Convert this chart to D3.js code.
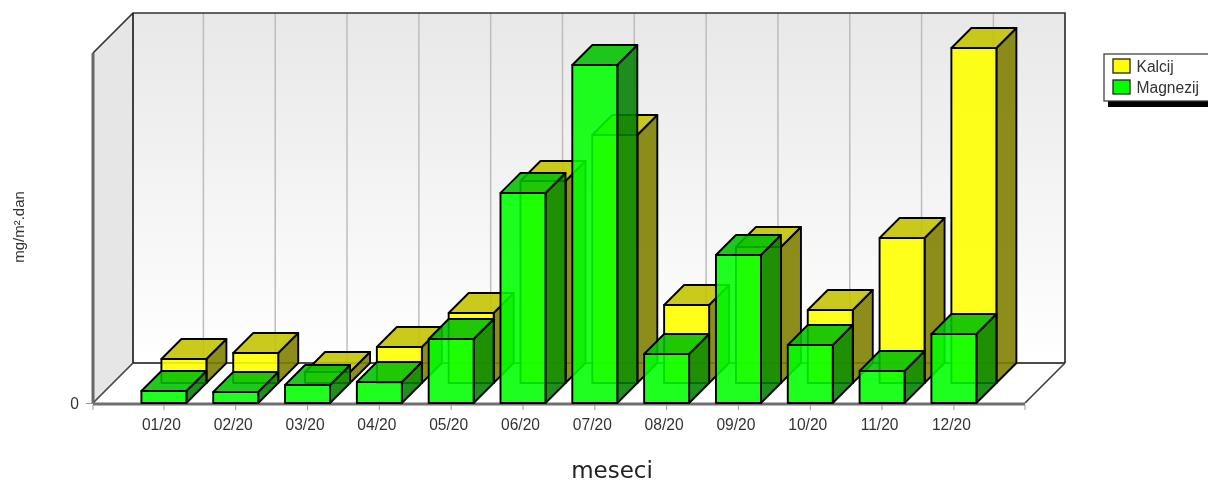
<!DOCTYPE html>
<html><head><meta charset="utf-8">
<style>html,body{margin:0;padding:0;background:#fff}svg{display:block;filter:blur(.4px)}text{fill:#333}</style>
<script src="https://cdnjs.cloudflare.com/ajax/libs/d3/7.8.5/d3.min.js"></script>
</head><body><svg id="c" width="1208" height="482"></svg>
<script>
const months=["01/20","02/20","03/20","04/20","05/20","06/20","07/20","08/20","09/20","10/20","11/20","12/20"];
const kalcij=[24,30,11,36,70,202,248,78,136,73,145,335];
const magnezij=[12,11,18,21,64,210,338,49,148,58,32,69];
const seriesNames=["Kalcij","Magnezij"];
const yTicks=[0];
const yLabel="mg/m².dan", xLabel="meseci";

const svg=d3.select("#c");
const L=93,R=1025,B=403,T=53,D=40;
const x=d3.scaleBand().domain(months).range([128,989.8]);
const y=d3.scaleLinear().domain([0,350]).range([B,T]);
const barW=45,bd=20;

const defs=svg.append("defs");
const g=defs.append("linearGradient").attr("id","wall").attr("x1",0).attr("x2",0).attr("y1",0).attr("y2",1);
g.append("stop").attr("offset",0).attr("stop-color","#e8e8e8");
g.append("stop").attr("offset",1).attr("stop-color","#ffffff");

const poly=(pts)=>pts.map(p=>p.join(",")).join(" ");
svg.append("rect").attr("x",L+D).attr("y",T-D).attr("width",R-L).attr("height",B-T).attr("fill","url(#wall)");
svg.append("polygon").attr("points",poly([[L,T],[L+D,T-D],[L+D,B-D],[L,B]])).attr("fill","#e6e6e6");
svg.selectAll(".grid").data(months).join("line").attr("class","grid")
  .attr("x1",d=>x(d)+x.bandwidth()/2+D-0.5).attr("x2",d=>x(d)+x.bandwidth()/2+D-0.5)
  .attr("y1",T-D).attr("y2",B-D).attr("stroke","#bdbdbd").attr("stroke-width",1.5);
svg.append("path").attr("d",`M${L},${T}L${L+D},${T-D}H${R+D}V${B-D}`).attr("fill","none").attr("stroke","#333").attr("stroke-width",1.7);
svg.append("line").attr("x1",L+D).attr("x2",L+D).attr("y1",T-D).attr("y2",B-D).attr("stroke","#222").attr("stroke-width",1.7);
svg.append("line").attr("x1",L+D).attr("x2",R+D).attr("y1",B-D).attr("y2",B-D).attr("stroke","#111").attr("stroke-width",1.7);
svg.append("path").attr("d",`M${L},${B}L${L+D},${B-D}M${R},${B}L${R+D},${B-D}`).attr("fill","none").attr("stroke","#444").attr("stroke-width",1.7);
svg.append("line").attr("x1",L).attr("x2",L).attr("y1",T).attr("y2",B).attr("stroke","#666").attr("stroke-width",3);
svg.append("line").attr("x1",L).attr("x2",R).attr("y1",B+1).attr("y2",B+1).attr("stroke","#707070").attr("stroke-width",3);

function bars(vals,off,front,top,side){
  const gg=svg.append("g");
  vals.forEach((v,i)=>{
    const x0=x(months[i])+x.bandwidth()/2-22.5+off, x1=x0+barW;
    const yb=y(0)-off, yt=y(v)-off;
    const s={stroke:"#000","stroke-width":1.9,"stroke-linejoin":"round"};
    const add=(pts,fill)=>{const p=gg.append("polygon").attr("points",poly(pts)).attr("fill",fill);
      Object.entries(s).forEach(([k,val])=>p.attr(k,val));};
    add([[x1,yb],[x1+bd,yb-bd],[x1+bd,yt-bd],[x1,yt]],side);
    add([[x0,yt],[x0+bd,yt-bd],[x1+bd,yt-bd],[x1,yt]],top);
    add([[x0,yb],[x1,yb],[x1,yt],[x0,yt]],front);
  });
}
bars(kalcij,20,"rgba(255,255,0,.89)","rgba(195,195,0,.89)","rgba(127,127,0,.89)");
bars(magnezij,0,"rgba(0,255,0,.88)","rgba(0,192,0,.88)","rgba(0,127,0,.88)");

const ax=svg.append("g").attr("transform",`translate(0,${B+2})`)
  .call(d3.axisBottom(x).tickSize(5).tickPadding(9));
ax.select(".domain").remove();
ax.selectAll("line").attr("stroke","#999");
ax.selectAll("text").attr("dx",-2.5).style("font","15.6px 'Liberation Sans'").style("fill","#333");
[L,R].forEach(px=>svg.append("line").attr("x1",px).attr("x2",px).attr("y1",B+2).attr("y2",B+7).attr("stroke","#999"));
const ay=svg.append("g").attr("transform",`translate(${L},0)`)
  .call(d3.axisLeft(y).tickValues(yTicks).tickSize(7).tickPadding(7));
ay.select(".domain").remove();
ay.selectAll("line").attr("stroke","#999");
ay.selectAll("text").style("font","15.6px 'Liberation Sans'").style("fill","#333");
svg.append("text").attr("transform","translate(24,227) rotate(-90)").attr("text-anchor","middle")
  .style("font","15px 'Liberation Sans'").text(yLabel);
svg.append("text").attr("x",612).attr("y",478).attr("text-anchor","middle")
  .style("font","23px 'DejaVu Sans'").style("fill","#222").text(xLabel);

svg.append("rect").attr("x",1108).attr("y",60).attr("width",110).attr("height",47).attr("fill","#000");
svg.append("rect").attr("x",1104).attr("y",54).attr("width",110).attr("height",47).attr("fill","#fff").attr("stroke","#333").attr("stroke-width",1.2);
const cols=["#ffff00","#00ff00"];
seriesNames.forEach((n,i)=>{
  svg.append("rect").attr("x",1113).attr("y",59+i*21).attr("width",17).attr("height",14).attr("fill",cols[i]).attr("stroke","#222").attr("stroke-width",1.3);
  svg.append("text").attr("x",1136.5).attr("y",72+i*21).style("font","15.6px 'Liberation Sans'").text(n);
});
</script></body></html>
